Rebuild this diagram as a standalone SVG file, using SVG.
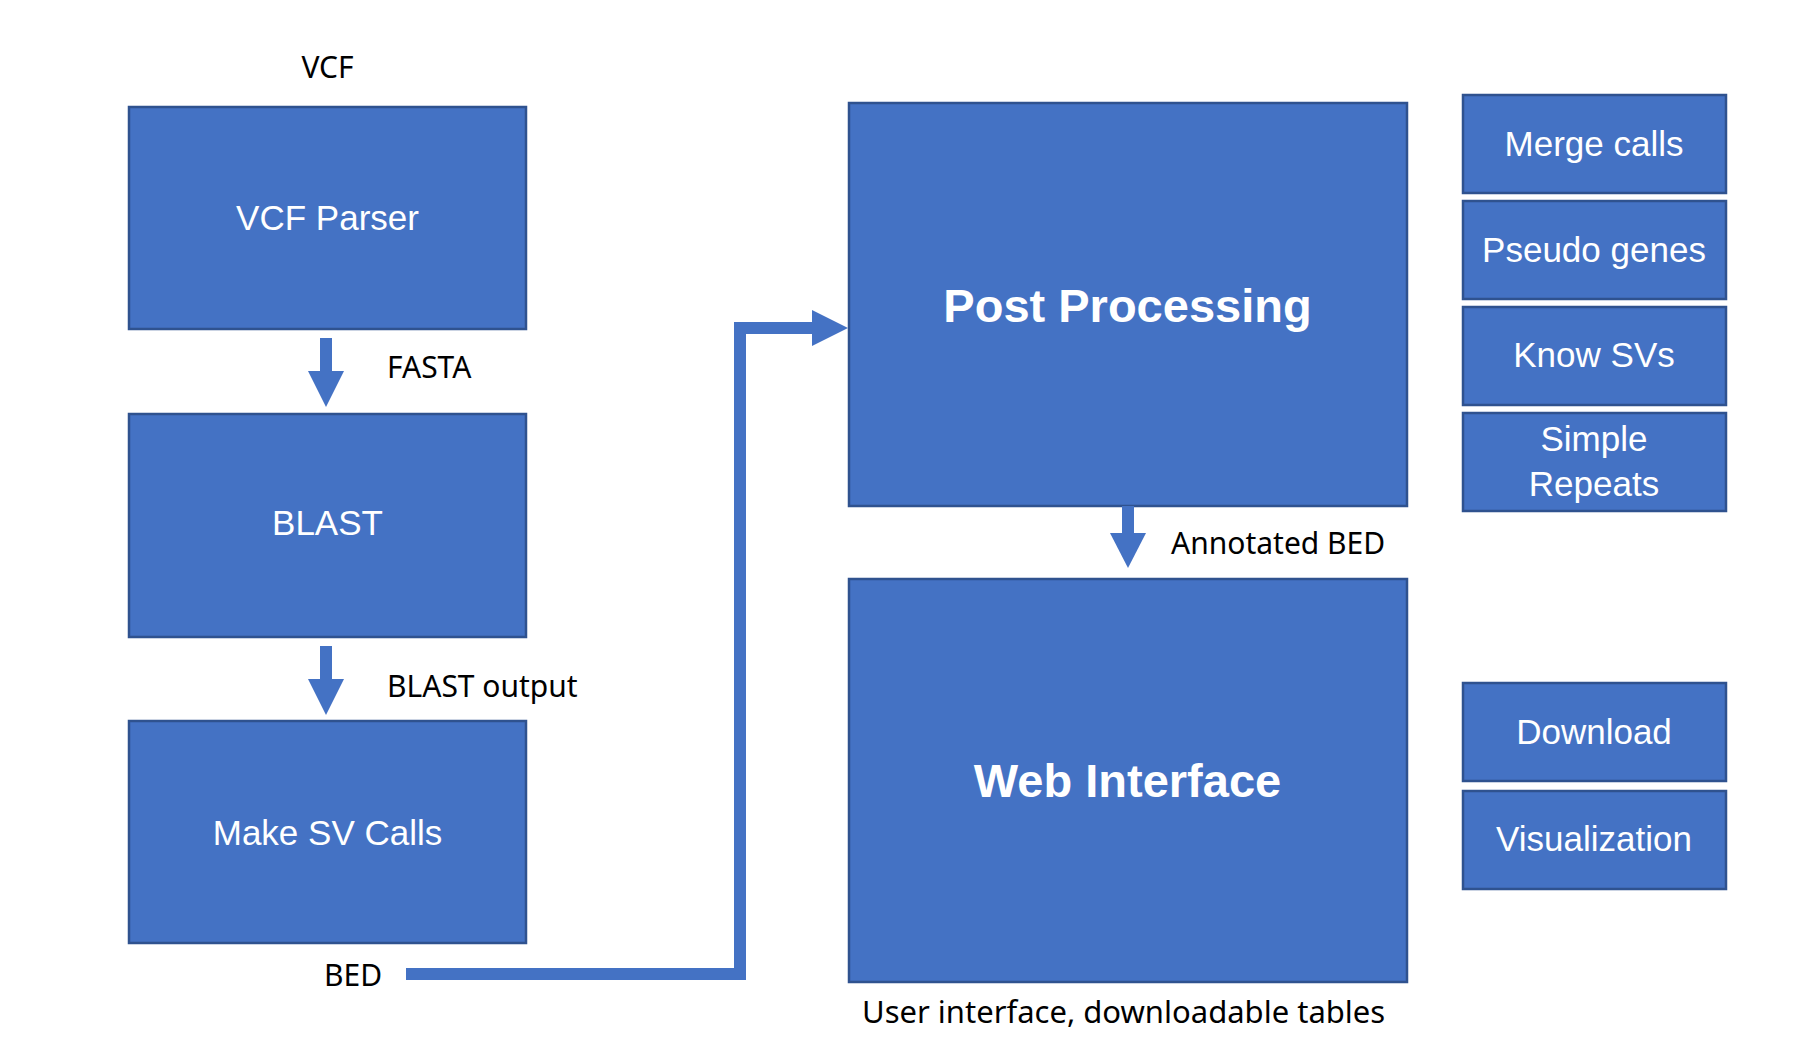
<svg xmlns="http://www.w3.org/2000/svg" width="1808" height="1052" viewBox="0 0 1808 1052">
<style>
.box{fill:#4472C4;stroke:#2F528F;stroke-width:2.5}
.wt{fill:#fff;font-family:"Liberation Sans",Arial,sans-serif;font-size:35px;text-anchor:middle}
.big{fill:#fff;font-family:"Liberation Sans",Arial,sans-serif;font-size:47px;font-weight:bold;text-anchor:middle}
.lbl{fill:#000;font-family:"Noto Sans","Open Sans",sans-serif;font-size:30px}
.arr{fill:#4472C4}
.line{fill:none;stroke:#4472C4;stroke-width:12;stroke-linejoin:miter}
</style>
<rect width="1808" height="1052" fill="#fff"/>
<text class="lbl" x="327.5" y="78" text-anchor="middle">VCF</text>
<g id="vcf-parser"><rect class="box" x="129" y="107" width="397" height="222"/><text class="wt" x="327.5" y="230">VCF Parser</text></g>
<g id="blast"><rect class="box" x="129" y="414" width="397" height="223"/><text class="wt" x="327.5" y="535">BLAST</text></g>
<g id="make-sv-calls"><rect class="box" x="129" y="721" width="397" height="222"/><text class="wt" x="327.5" y="845">Make SV Calls</text></g>
<g id="post-processing"><rect class="box" x="849" y="103" width="558" height="403"/><text class="big" x="1127.5" y="322">Post Processing</text></g>
<g id="web-interface"><rect class="box" x="849" y="579" width="558" height="403"/><text class="big" x="1127.5" y="797">Web Interface</text></g>
<g id="merge-calls"><rect class="box" x="1463" y="95" width="263" height="98"/><text class="wt" x="1594" y="156">Merge calls</text></g>
<g id="pseudo-genes"><rect class="box" x="1463" y="201" width="263" height="98"/><text class="wt" x="1594" y="262">Pseudo genes</text></g>
<g id="know-svs"><rect class="box" x="1463" y="307" width="263" height="98"/><text class="wt" x="1594" y="367">Know SVs</text></g>
<g id="simple-repeats"><rect class="box" x="1463" y="413" width="263" height="98"/><text class="wt" x="1594" y="451">Simple</text><text class="wt" x="1594" y="496">Repeats</text></g>
<g id="download"><rect class="box" x="1463" y="683" width="263" height="98"/><text class="wt" x="1594" y="744">Download</text></g>
<g id="visualization"><rect class="box" x="1463" y="791" width="263" height="98"/><text class="wt" x="1594" y="851">Visualization</text></g>
<g id="connectors">
<rect class="arr" x="320" y="338" width="12" height="34"/><polygon class="arr" points="308,371 344,371 326,407"/>
<rect class="arr" x="320" y="646" width="12" height="34"/><polygon class="arr" points="308,679 344,679 326,715"/>
<rect class="arr" x="1122" y="506" width="12" height="28"/><polygon class="arr" points="1110,533 1146,533 1128,568"/>
<polyline class="line" points="406,974 740,974 740,328 813,328"/><polygon class="arr" points="812,310 848,328 812,346"/>
</g>
<text class="lbl" x="387" y="378">FASTA</text>
<text class="lbl" x="387" y="697">BLAST output</text>
<text class="lbl" x="324" y="986">BED</text>
<text class="lbl" x="1171" y="554">Annotated BED</text>
<text class="lbl" x="862" y="1023" style="font-size:31px">User interface, downloadable tables</text>
</svg>
